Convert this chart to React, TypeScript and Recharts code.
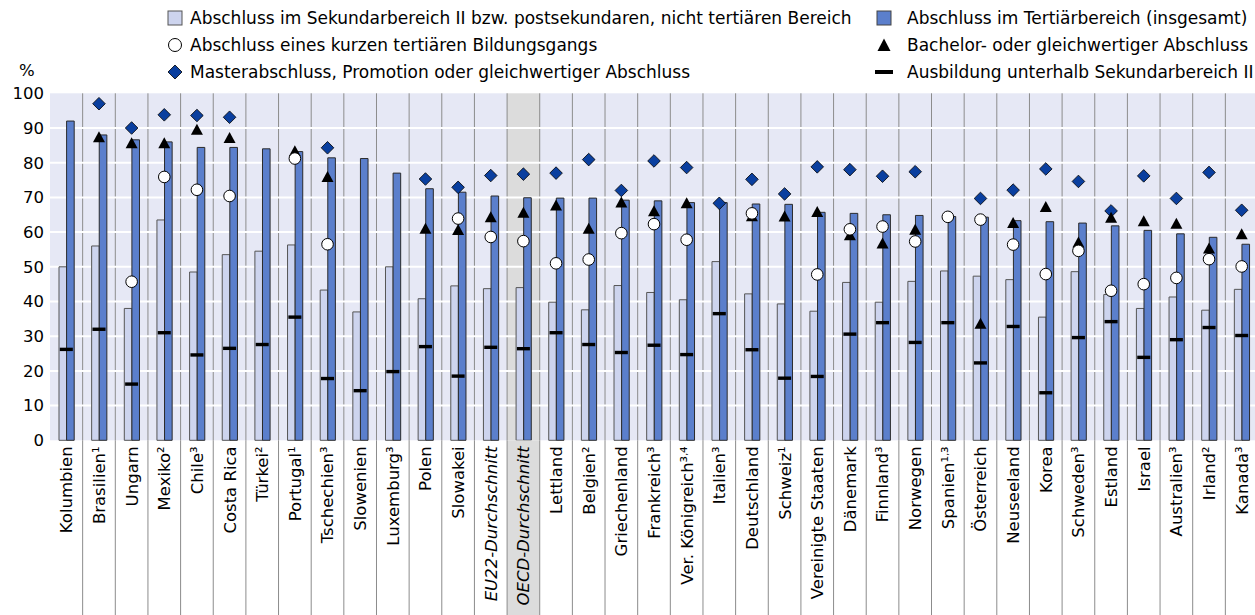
import { Bar, CartesianGrid, ComposedChart, Line, XAxis, YAxis } from "recharts";

const categories = [
  "Kolumbien",
  "Brasilien¹",
  "Ungarn",
  "Mexiko²",
  "Chile³",
  "Costa Rica",
  "Türkei²",
  "Portugal¹",
  "Tschechien³",
  "Slowenien",
  "Luxemburg³",
  "Polen",
  "Slowakei",
  "EU22-Durchschnitt",
  "OECD-Durchschnitt",
  "Lettland",
  "Belgien²",
  "Griechenland",
  "Frankreich³",
  "Ver. Königreich³,⁴",
  "Italien³",
  "Deutschland",
  "Schweiz¹",
  "Vereinigte Staaten",
  "Dänemark",
  "Finnland³",
  "Norwegen",
  "Spanien¹,³",
  "Österreich",
  "Neuseeland",
  "Korea",
  "Schweden³",
  "Estland",
  "Israel",
  "Australien³",
  "Irland²",
  "Kanada³",
];

// Abschluss im Sekundarbereich II bzw. postsekundaren, nicht tertiären Bereich
const upperSecondary = [
  50, 56, 38, 63.5, 48.5, 53.5, 54.5, 56.3, 43.3, 37, 50, 40.8, 44.5, 43.7, 44,
  39.8, 37.6, 44.6, 42.6, 40.5, 51.5, 42.2, 39.3, 37.2, 45.5, 39.8, 45.8, 48.8,
  47.3, 46.3, 35.5, 48.6, 42, 38, 41.3, 37.5, 43.5,
];

// Abschluss im Tertiärbereich (insgesamt)
const tertiary = [
  92, 88, 86.6, 86, 84.4, 84.4, 84, 83.2, 81.4, 81.2, 77, 72.5, 71.5, 70.4, 69.9,
  69.8, 69.8, 69.2, 69, 68.5, 68.5, 68.1, 68, 65.7, 65.4, 65, 64.8, 64.5, 64.3,
  63.3, 63, 62.6, 61.8, 60.5, 59.5, 58.5, 56.5,
];

// Abschluss eines kurzen tertiären Bildungsgangs
const shortCycle = [
  null, null, 45.7, 75.9, 72.2, 70.4, null, 81.2, 56.5, null, null, null, 63.9,
  58.6, 57.4, 51, 52.1, 59.7, 62.3, 57.8, null, 65.4, null, 47.8, 60.8, 61.6,
  57.3, 64.4, 63.6, 56.4, 47.9, 54.6, 43.1, 45, 46.8, 52.2, 50.1,
];

// Bachelor- oder gleichwertiger Abschluss
const bachelor = [
  null, 87.3, 85.6, 85.6, 89.5, 87.1, null, 83.3, 75.9, null, null, 61, 60.6,
  64.3, 65.6, 67.7, 61, 68.5, 66, 68.3, null, 64.6, 64.5, 65.8, 59.1, 56.7, 60.7,
  null, 33.6, 62.6, 67.2, 57, 64.1, 63.1, 62.4, 55.3, 59.4,
];

// Masterabschluss, Promotion oder gleichwertiger Abschluss
const master = [
  null, 97, 90, 93.8, 93.6, 93.1, null, null, 84.3, null, null, 75.3, 72.9, 76.3,
  76.7, 77, 80.9, 72, 80.5, 78.6, 68.3, 75.2, 71, 78.8, 78, 76.1, 77.4, null,
  69.7, 72.1, 78.2, 74.6, 66.1, 76.2, 69.7, 77.2, 66.3,
];

// Ausbildung unterhalb Sekundarbereich II
const belowUpperSecondary = [
  26.2, 32, 16.2, 31, 24.6, 26.5, 27.6, 35.5, 17.8, 14.3, 19.8, 27, 18.5, 26.8,
  26.4, 31, 27.6, 25.3, 27.4, 24.7, 36.5, 26.1, 17.9, 18.4, 30.6, 33.9, 28.2,
  33.9, 22.3, 32.8, 13.7, 29.6, 34.2, 23.9, 29, 32.5, 30.2,
];

const yTicks = [0, 10, 20, 30, 40, 50, 60, 70, 80, 90, 100];

const data = categories.map((name, i) => ({
  name,
  upper: upperSecondary[i],
  tertiary: tertiary[i],
  short: shortCycle[i],
  bachelor: bachelor[i],
  master: master[i],
  below: belowUpperSecondary[i],
}));

const FONT = "'DejaVu Sans', sans-serif";
const FONT_SIZE = 16.5;
const LEGEND_SIZE = 17;
const CHART_W = 1258;
const CHART_H = 615;
const PLOT_TOP = 93.3;
const PLOT_LEFT = 50;
const PLOT_H = 347;
const BAND = (CHART_W - PLOT_LEFT) / categories.length;
const OECD_INDEX = 14;
const EU_INDEX = 13;

const BG = "#e6e8f5";
const GRAY_COL = "#dcdcdc";
const SEP = "#8c8c8c";
const LIGHT = "#cdd4ee";
const DARK = "#5b7fcc";
const DIAMOND = "#0a3f9f";

const boundaries = (props: any) => {
  const left = props?.offset?.left ?? PLOT_LEFT;
  const width = props?.offset?.width ?? CHART_W - PLOT_LEFT;
  const b = width / categories.length;
  return categories.map((_, i) => left + i * b);
};

const innerGridRows = (props: any) => {
  const top = props?.offset?.top ?? PLOT_TOP;
  const h = props?.offset?.height ?? PLOT_H;
  return yTicks.slice(1, -1).map((v) => top + h * (1 - v / 100));
};

const stripeFills = categories.map((_, i) => (i === OECD_INDEX ? GRAY_COL : BG));

// comma between two footnote superscripts is drawn small and raised
function labelParts(label: string) {
  const m = label.match(/^(.*[¹²³⁴]),([¹²³⁴])$/);
  if (!m) return label;
  return (
    <>
      {m[1]}
      <tspan fontSize={9} dy={-6}>,</tspan>
      <tspan dy={6}>{m[2]}</tspan>
    </>
  );
}

function CategoryTick(props: any) {
  const { x, y, payload, index } = props;
  const plotBottom = y - 6;
  const left = x - BAND / 2;
  const italic = index === OECD_INDEX || index === EU_INDEX;
  return (
    <g>
      {index === OECD_INDEX && (
        <rect x={left} y={plotBottom} width={BAND} height={CHART_H - plotBottom} fill={GRAY_COL} />
      )}
      {index > 0 && <line x1={left} x2={left} y1={plotBottom} y2={CHART_H} stroke={SEP} />}
      <g transform={`translate(${x},${y}) rotate(-90)`}>
        <text
          x={0}
          y={0}
          textAnchor="end"
          dy="0.36em"
          fill="#000"
          fontSize={FONT_SIZE}
          fontFamily={FONT}
          fontStyle={italic ? "italic" : "normal"}
        >
          {labelParts(payload.value)}
        </text>
      </g>
    </g>
  );
}

const skip = (p: any) => p.cx == null || p.cy == null || p.value == null;

const renderCircle = (p: any) =>
  skip(p) ? null : (
    <circle key={`c-${p.index}`} cx={p.cx} cy={p.cy} r={5.8} fill="#fff" stroke="#000" strokeWidth={1} />
  );

const renderTriangle = (p: any) =>
  skip(p) ? null : (
    <path
      key={`t-${p.index}`}
      d={`M${p.cx},${p.cy - 6} L${p.cx + 6},${p.cy + 5} L${p.cx - 6},${p.cy + 5} Z`}
      fill="#000"
    />
  );

const renderDiamond = (p: any) =>
  skip(p) ? null : (
    <path
      key={`m-${p.index}`}
      d={`M${p.cx},${p.cy - 6.3} L${p.cx + 6.3},${p.cy} L${p.cx},${p.cy + 6.3} L${p.cx - 6.3},${p.cy} Z`}
      fill={DIAMOND}
      stroke="#000"
      strokeWidth={0.8}
    />
  );

const renderDash = (p: any) =>
  skip(p) ? null : (
    <rect key={`b-${p.index}`} x={p.cx - 6.5} y={p.cy - 1.7} width={13} height={3.4} fill="#000" />
  );

const legendLeft = [
  {
    label: "Abschluss im Sekundarbereich II bzw. postsekundaren, nicht tertiären Bereich",
    icon: <rect x={3} y={3} width={14} height={14} fill={LIGHT} stroke="#555" />,
  },
  {
    label: "Abschluss eines kurzen tertiären Bildungsgangs",
    icon: <circle cx={10} cy={10} r={6.5} fill="#fff" stroke="#000" />,
  },
  {
    label: "Masterabschluss, Promotion oder gleichwertiger Abschluss",
    icon: <path d="M10,3 L17,10 L10,17 L3,10 Z" fill={DIAMOND} stroke="#000" strokeWidth={0.8} />,
  },
];

const legendRight = [
  {
    label: "Abschluss im Tertiärbereich (insgesamt)",
    icon: <rect x={3} y={3} width={14} height={14} fill={DARK} stroke="#444" />,
  },
  {
    label: "Bachelor- oder gleichwertiger Abschluss",
    icon: <path d="M10,3.5 L16.5,16 L3.5,16 Z" fill="#000" />,
  },
  {
    label: "Ausbildung unterhalb Sekundarbereich II",
    icon: <rect x={1} y={8} width={18} height={4} fill="#000" />,
  },
];

const legendRows = [17.5, 44.5, 71.5];

function LegendBlock({ items, iconX, textX }: { items: typeof legendLeft; iconX: number; textX: number }) {
  return (
    <>
      {items.map((item, i) => (
        <div key={item.label}>
          <svg
            width={20}
            height={20}
            style={{ position: "absolute", left: iconX - 10, top: legendRows[i] - 10 }}
          >
            {item.icon}
          </svg>
          <div
            style={{
              position: "absolute",
              left: textX,
              top: legendRows[i] - 10,
              lineHeight: "20px",
              fontSize: LEGEND_SIZE,
              whiteSpace: "nowrap",
            }}
          >
            {item.label}
          </div>
        </div>
      ))}
    </>
  );
}

export default function App() {
  return (
    <div
      style={{
        position: "absolute",
        left: 0,
        top: 0,
        width: 1255,
        height: 615,
        overflow: "hidden",
        background: "#fff",
        fontFamily: FONT,
        fontSize: FONT_SIZE,
        color: "#000",
      }}
    >
      <ComposedChart
        width={CHART_W}
        height={CHART_H}
        data={data}
        margin={{ top: PLOT_TOP, right: 0, bottom: 0, left: 0 }}
        barGap={0}
      >
        <CartesianGrid
          horizontal={false}
          stroke="none"
          verticalCoordinatesGenerator={boundaries}
          verticalFill={stripeFills}
        />
        <CartesianGrid
          horizontal={false}
          stroke={SEP}
          verticalCoordinatesGenerator={(p: any) => boundaries(p).slice(1)}
        />
        <CartesianGrid
          vertical={false}
          stroke="#fff"
          strokeWidth={2}
          horizontalCoordinatesGenerator={innerGridRows}
        />
        <XAxis
          dataKey="name"
          type="category"
          interval={0}
          axisLine={false}
          tickLine={false}
          tickSize={4}
          tickMargin={2}
          height={CHART_H - PLOT_TOP - PLOT_H}
          tick={<CategoryTick />}
        />
        <YAxis
          type="number"
          domain={[0, 100]}
          ticks={yTicks}
          interval={0}
          axisLine={false}
          tickLine={false}
          tickSize={4}
          tickMargin={2}
          width={PLOT_LEFT}
          tick={{ fill: "#000", fontSize: FONT_SIZE, fontFamily: FONT }}
        />
        <Bar dataKey="upper" barSize={7.6} fill={LIGHT} stroke="#555" strokeWidth={1} isAnimationActive={false} />
        <Bar dataKey="tertiary" barSize={7.6} fill={DARK} stroke="#2b2b2b" strokeWidth={1} isAnimationActive={false} />
        <Line dataKey="below" stroke="none" dot={renderDash} activeDot={false} legendType="none" isAnimationActive={false} />
        <Line dataKey="master" stroke="none" dot={renderDiamond} activeDot={false} legendType="none" isAnimationActive={false} />
        <Line dataKey="bachelor" stroke="none" dot={renderTriangle} activeDot={false} legendType="none" isAnimationActive={false} />
        <Line dataKey="short" stroke="none" dot={renderCircle} activeDot={false} legendType="none" isAnimationActive={false} />
      </ComposedChart>
      <LegendBlock items={legendLeft} iconX={175} textX={190} />
      <LegendBlock items={legendRight} iconX={884} textX={907} />
      <div style={{ position: "absolute", left: 19, top: 61, lineHeight: "20px" }}>%</div>
    </div>
  );
}
